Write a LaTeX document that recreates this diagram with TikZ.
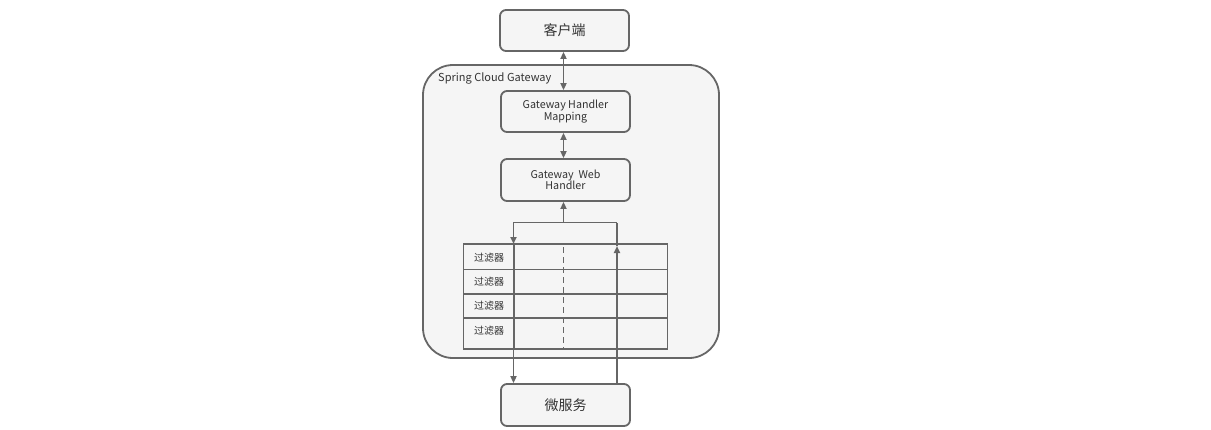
\documentclass[tikz,border=0pt]{standalone}
\usepackage{fontspec}
\setmainfont{Noto Sans CJK SC}
\usetikzlibrary{arrows.meta}
\definecolor{ln}{HTML}{666666}
\definecolor{bg}{HTML}{F5F5F5}
\definecolor{tx}{HTML}{333333}
\tikzset{
  box/.style={draw=ln, fill=bg, rounded corners=6pt, line width=1.8pt, text=tx, align=center, inner sep=0pt},
  conn/.style={draw=ln, line width=1.8pt},
  tip/.style={-{Triangle[length=7pt,width=6pt]}},
  tips/.style={{Triangle[length=7pt,width=6pt]}-{Triangle[length=7pt,width=6pt]}},
  cell/.style={draw=ln, line width=1.6pt},
}
\begin{document}
\begin{tikzpicture}[x=1pt,y=-1pt]
\useasboundingbox (0,0) rectangle (1211,429);
% container
\draw[draw=ln, fill=bg, line width=1.8pt, rounded corners=30pt] (423,65) rectangle (719,358);
\node[anchor=west, text=tx, font=\fontsize{11}{12}\selectfont, inner sep=0pt] (sclabel) at (438,78.5) {Spring Cloud Gateway};
% boxes
\node[box, minimum width=129pt, minimum height=41pt, font=\fontsize{14}{16}\selectfont] (client) at (564.5,30.5) {客户端};
\node[box, minimum width=129pt, minimum height=41pt, font=\fontsize{10.7}{11.3}\selectfont] (ghm) at (565.5,111.5) {Gateway Handler\\Mapping};
\node[box, minimum width=129pt, minimum height=42pt, font=\fontsize{10.7}{11.3}\selectfont] (gwh) at (565.5,180) {Gateway\ \ Web\\Handler};
\node[box, minimum width=129pt, minimum height=42pt, font=\fontsize{14}{16}\selectfont] (ms) at (565.5,405) {微服务};
% table
\draw[cell, fill=bg] (463.5,244) rectangle (667.5,349);
\foreach \yy in {269.5,294,318}{ \draw[cell] (463.5,\yy) -- (667.5,\yy); }
\draw[cell] (514,244) -- (514,349);
\draw[cell, dash pattern=on 6pt off 4pt] (563.5,247) -- (563.5,349);
\foreach \yy/\nm in {257.5/fa,281.5/fb,306/fc,330.5/fd}{
  \node[text=tx, font=\fontsize{10}{11}\selectfont, inner sep=0pt] (\nm) at (489,\yy) {过滤器};
}
% coordinates
\coordinate (tl) at (513.5,222.5);
\coordinate (tr) at (617,222.5);
\coordinate (tm) at (563.5,222.5);
\coordinate (lt) at (513.5,244);
\coordinate (lb) at (513.5,349);
\coordinate (rt) at (617,246);
% connectors
\draw[conn, tips] (client.south -| 563.5,0) -- (ghm.north -| 563.5,0);
\draw[conn, tips] (ghm.south -| 563.5,0) -- (gwh.north -| 563.5,0);
\draw[conn, tip] (tm) -- (gwh.south -| tm);
\draw[conn, tip] (tr) -- (tl) -- (lt);
\draw[conn, tip] (lb) -- (ms.north -| lb);
\draw[conn, tip] (ms.north -| rt) -- (rt);
\draw[conn] (rt) -- (tr);
\end{tikzpicture}
\end{document}
